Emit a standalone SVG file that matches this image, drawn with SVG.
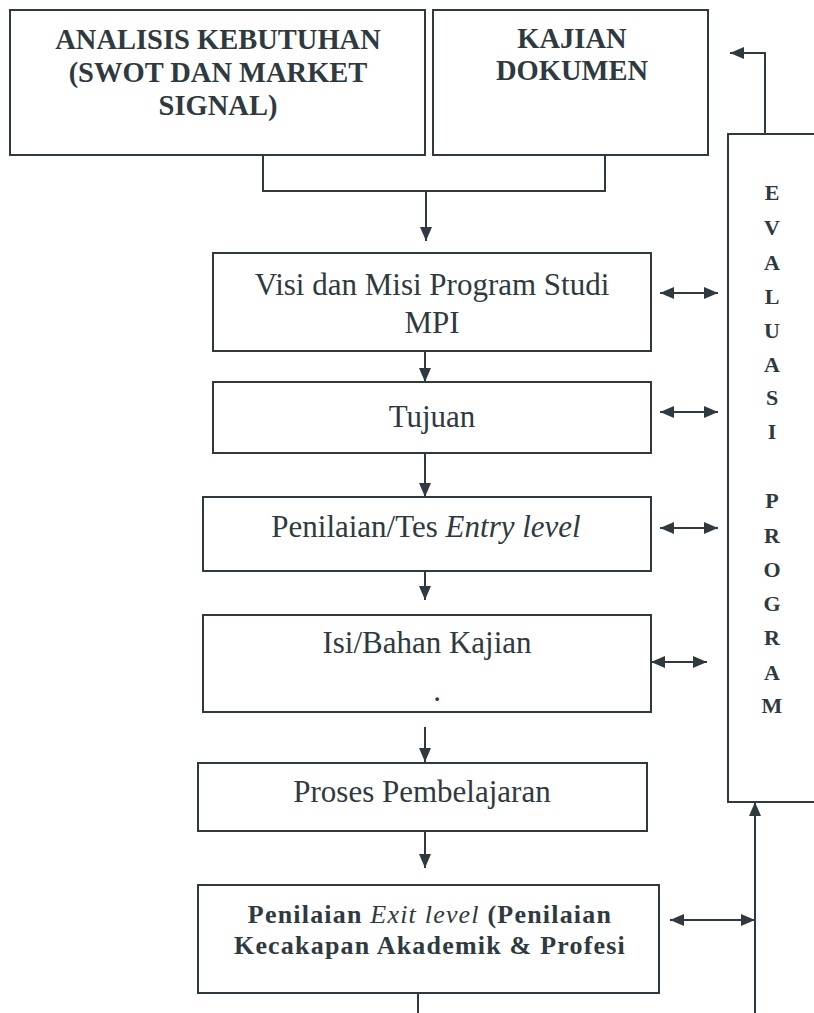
<svg xmlns="http://www.w3.org/2000/svg" width="814" height="1013" viewBox="0 0 814 1013">
<defs>
<marker id="ah" viewBox="0 0 14 12" refX="14" refY="6" markerWidth="14" markerHeight="12" markerUnits="userSpaceOnUse" orient="auto-start-reverse">
<path d="M0,0 L14,6 L0,12 z" fill="#2e3a3f"/>
</marker>
<style>
.box{fill:#ffffff;stroke:#2e3a3f;stroke-width:2}
.ln{fill:none;stroke:#2e3a3f;stroke-width:2}
.arr{fill:none;stroke:#2e3a3f;stroke-width:2;marker-end:url(#ah)}
.dbl{fill:none;stroke:#2e3a3f;stroke-width:2;marker-start:url(#ah);marker-end:url(#ah)}
.t{font-family:"Liberation Serif","Times New Roman",serif;font-size:31px;fill:#2e3a3f;text-anchor:middle}
.tb{font-family:"Liberation Serif","Times New Roman",serif;font-size:28.5px;font-weight:bold;fill:#2e3a3f;text-anchor:middle}
.te{font-family:"Liberation Serif","Times New Roman",serif;font-size:26px;font-weight:bold;letter-spacing:1.2px;fill:#2e3a3f;text-anchor:middle}
.tv{font-family:"Liberation Serif","Times New Roman",serif;font-size:22px;font-weight:bold;fill:#2e3a3f;text-anchor:middle}
</style>
</defs>
<rect width="814" height="1013" fill="#ffffff"/>

<g id="connectors">
<path class="ln" d="M263,155 V191 H605 V155"/>
<path class="arr" d="M426,191 V241"/>
<path class="arr" d="M425,351 V382"/>
<path class="arr" d="M425,453 V497"/>
<path class="arr" d="M425,571 V600"/>
<path class="arr" d="M425,727 V762"/>
<path class="arr" d="M425,831 V868"/>
<path class="ln" d="M418,988 V1013"/>
<path class="arr" d="M755,1013 V802"/>
<path class="arr" d="M765,134 V53 H730"/>
<path class="dbl" d="M660,293 H718"/>
<path class="dbl" d="M660,412 H718"/>
<path class="dbl" d="M660,528 H718"/>
<path class="dbl" d="M651,662 H707"/>
<path class="dbl" d="M670,920 H755"/>
</g>

<g id="analisis">
<rect class="box" x="10" y="10" width="415" height="145"/>
<text class="tb" x="218" y="49">ANALISIS KEBUTUHAN</text>
<text class="tb" x="218" y="82">(SWOT DAN MARKET</text>
<text class="tb" x="218" y="115">SIGNAL)</text>
</g>

<g id="kajian">
<rect class="box" x="433" y="10" width="275" height="145"/>
<text class="tb" x="572" y="48">KAJIAN</text>
<text class="tb" x="572" y="80">DOKUMEN</text>
</g>

<g id="visi">
<rect class="box" x="213" y="253" width="438" height="98"/>
<text class="t" x="432" y="295">Visi dan Misi Program Studi</text>
<text class="t" x="432" y="333">MPI</text>
</g>

<g id="tujuan">
<rect class="box" x="213" y="382" width="438" height="71"/>
<text class="t" x="432" y="427">Tujuan</text>
</g>

<g id="entry">
<rect class="box" x="203" y="497" width="448" height="74"/>
<text class="t" x="426" y="537">Penilaian/Tes <tspan font-style="italic">Entry level</tspan></text>
</g>

<g id="isi">
<rect class="box" x="203" y="615" width="448" height="97"/>
<text class="t" x="427" y="653">Isi/Bahan Kajian</text>
<text class="t" x="437" y="701">.</text>
</g>

<g id="proses">
<rect class="box" x="198" y="763" width="449" height="68"/>
<text class="t" x="422" y="802">Proses Pembelajaran</text>
</g>

<g id="exit">
<rect class="box" x="198" y="885" width="461" height="108"/>
<text class="te" x="430" y="923">Penilaian <tspan font-style="italic" font-weight="normal">Exit level</tspan> (Penilaian</text>
<text class="te" x="430" y="954">Kecakapan Akademik &amp; Profesi</text>
</g>

<g id="evaluasi">
<path class="box" d="M824,134 H728 V802 H824"/>
<text class="tv" x="772" y="200">E</text>
<text class="tv" x="772" y="235">V</text>
<text class="tv" x="772" y="270">A</text>
<text class="tv" x="772" y="304">L</text>
<text class="tv" x="772" y="338">U</text>
<text class="tv" x="772" y="372">A</text>
<text class="tv" x="772" y="405">S</text>
<text class="tv" x="772" y="439">I</text>
<text class="tv" x="772" y="508">P</text>
<text class="tv" x="772" y="543">R</text>
<text class="tv" x="772" y="577">O</text>
<text class="tv" x="772" y="611">G</text>
<text class="tv" x="772" y="645">R</text>
<text class="tv" x="772" y="680">A</text>
<text class="tv" x="772" y="713">M</text>
</g>
</svg>
